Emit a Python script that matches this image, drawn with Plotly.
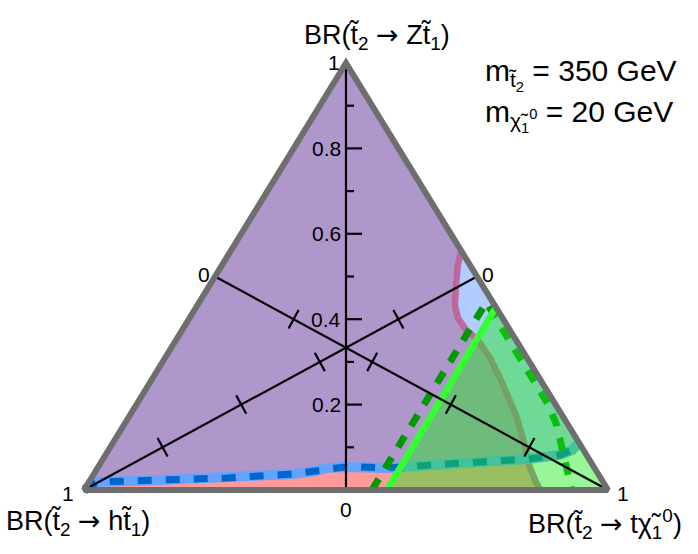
import plotly.graph_objects as go

# ---------------------------------------------------------------------------
# Branching-ratio plane of the heavier stop.  Every contour is stored as
# pairs (BR(t2 -> t chi1), BR(t2 -> Z t1)); BR(t2 -> h t1) is the remainder.
# ---------------------------------------------------------------------------

# boundary between the purple and light-blue regions (upper part, edge -> junction)
magenta_upper_t = [0.440, 0.450, 0.470, 0.4915, 0.512, 0.5415, 0.5765, 0.6205, 0.663, 0.703, 0.7366, 0.7715, 0.799, 0.811]
magenta_upper_z = [0.560, 0.527, 0.480, 0.433, 0.403, 0.375, 0.351, 0.309, 0.262, 0.2155, 0.1756, 0.1288, 0.089, 0.0726]
# same boundary below the junction with the blue contour
magenta_lower_t = [0.811, 0.824, 0.849, 0.870]
magenta_lower_z = [0.0726, 0.0539, 0.0234, 0.0]

# blue dashed contour (pink region below it), left vertex -> junction
blue_left_t = [0.0, 0.0155, 0.1333, 0.2588, 0.380, 0.4186, 0.438, 0.471, 0.4997, 0.5525, 0.6623, 0.797, 0.811]
blue_left_z = [0.0, 0.0187, 0.0234, 0.0281, 0.0375, 0.0445, 0.0515, 0.0539, 0.0539, 0.0515, 0.0609, 0.0703, 0.0726]
# blue dashed contour, junction -> right edge
blue_right_t = [0.811, 0.867, 0.8845, 0.890]
blue_right_z = [0.0726, 0.082, 0.0937, 0.110]

# bright green observed contour (region to its right is shaded)
green_t = [0.578, 0.572]
green_z = [0.0, 0.428]

# dark green dashed expected contour
expected_t = [0.5496, 0.548, 0.595, 0.670, 0.743, 0.787, 0.826, 0.859, 0.892, 0.931]
expected_z = [0.0, 0.440, 0.392, 0.317, 0.244, 0.199, 0.152, 0.105, 0.058, 0.0]

# axis ticks
z_minor_ticks = [0.1, 0.3, 0.5, 0.7, 0.9]
z_major_ticks = [0.2, 0.4, 0.6, 0.8]
z_tick_labels = ["0.2", "0.4", "0.6", "0.8"]
median_ticks = [0.2, 0.4, 0.6, 0.8]

# ---------------------------------------------------------------------------
W, H = 698, 554
X0_PX, X1_PX = 84.0, 608.0      # left / right vertex pixel columns
Y0_PX, Y1_PX = 490.0, 63.0      # base / apex pixel rows
SX = X1_PX - X0_PX
SY = Y0_PX - Y1_PX

FONT = "Liberation Sans, Arial, Helvetica, sans-serif"


def to_xy(t_list, z_list):
    """Barycentric (BR_t, BR_Z) -> plane coordinates (left vertex at 0,0)."""
    xs = [t + z / 2.0 for t, z in zip(t_list, z_list)]
    ys = list(z_list)
    return xs, ys


fig = go.Figure()


def polygon(xs, ys, color):
    fig.add_trace(go.Scatter(x=xs, y=ys, mode="lines", fill="toself",
                             fillcolor=color, line=dict(width=0),
                             hoverinfo="skip"))


def curve(xs, ys, color, width, dash="solid"):
    fig.add_trace(go.Scatter(x=xs, y=ys, mode="lines",
                             line=dict(color=color, width=width, dash=dash),
                             hoverinfo="skip"))


# --- filled regions -------------------------------------------------------
mux, muy = to_xy(magenta_upper_t, magenta_upper_z)
mlx, mly = to_xy(magenta_lower_t, magenta_lower_z)
blx, bly = to_xy(blue_left_t, blue_left_z)
brx, bry = to_xy(blue_right_t, blue_right_z)

# purple: left of the magenta contour, above the blue one
polygon([0.0, 0.5] + mux + blx[::-1], [0.0, 1.0] + muy + bly[::-1], "#af97cb")
# light blue: right of the magenta contour, above the blue one
polygon(mux + brx[1:], muy + bry[1:], "#b3ccff")
# pink: below the blue contour, left of the magenta one
polygon(blx + mlx[1:], bly + mly[1:], "#ff9a9a")

# --- contour lines beneath the shaded green region -------------------------
curve(mux + mlx[1:], muy + mly[1:], "rgba(190,95,150,0.9)", 6.5)
bx, by = blx + brx[1:], bly + bry[1:]
curve(bx, by, "#66a3ff", 10)
curve(bx, by, "#0066cc", 7, dash="14px,14px")
ex, ey = to_xy(expected_t, expected_z)
curve(ex, ey, "#009a00", 7, dash="13px,12px")

# --- shaded region right of the observed green contour ---------------------
gx, gy = to_xy(green_t, green_z)
polygon(gx + [1.0], gy + [0.0], "rgba(31,233,31,0.46)")
curve(gx, gy, "#33ff33", 6.5)

# --- axes: vertical BR(Z) axis and the two medians --------------------------
curve([0.5, 0.5], [0.0, 1.0], "black", 2.2)
curve([0.0, 0.75], [0.0, 0.5], "black", 2.2)
curve([1.0, 0.25], [0.0, 0.5], "black", 2.2)

for z in z_minor_ticks:
    curve([0.5, 0.5 + 8 / SX], [z, z], "black", 2.2)
for z in z_major_ticks:
    curve([0.5, 0.5 + 16 / SX], [z, z], "black", 2.2)


def median_cross(vx, vy, mx, my, values, half_px=10.5):
    dxp, dyp = (mx - vx) * SX, (my - vy) * SY
    n = (dxp ** 2 + dyp ** 2) ** 0.5
    px, py = -dyp / n * half_px, dxp / n * half_px
    for b in values:
        f = 1.0 - b
        cx, cy = vx + f * (mx - vx), vy + f * (my - vy)
        curve([cx - px / SX, cx + px / SX], [cy - py / SY, cy + py / SY], "black", 2.2)


median_cross(0.0, 0.0, 0.75, 0.5, median_ticks)
median_cross(1.0, 0.0, 0.25, 0.5, median_ticks)

# --- triangle frame ---------------------------------------------------------
fig.add_trace(go.Scatter(x=[0.0, 1.0, 0.5, 0.0, 1.0], y=[0.0, 0.0, 1.0, 0.0, 0.0],
                         mode="lines", line=dict(color="#6e6e6e", width=6),
                         hoverinfo="skip"))

# --- text ---------------------------------------------------------------------
ann = []


def label(x, y, text, size, xanchor="center", yanchor="middle", xshift=0, yshift=0):
    ann.append(dict(x=x, y=y, xref="x", yref="y", text=text, showarrow=False,
                    xanchor=xanchor, yanchor=yanchor, xshift=xshift, yshift=yshift,
                    font=dict(family=FONT, size=size, color="black")))


TICK = 21
for z, txt in zip(z_major_ticks, z_tick_labels):
    label(0.5, z, txt, TICK, xanchor="right", xshift=-3)
label(0.5, 1.0, "1", TICK, xanchor="right", xshift=-4, yshift=1)
label(0.5, 0.0, "0", TICK, yanchor="top", yshift=-6)
label(0.0, 0.0, "1", TICK, xanchor="right", xshift=-8, yshift=-3)
label(1.0, 0.0, "1", TICK, xanchor="left", xshift=7, yshift=-3)
label(0.25, 0.5, "0", TICK, xanchor="right", xshift=-3, yshift=2)
label(0.75, 0.5, "0", TICK, xanchor="left", xshift=3, yshift=2)

T = "t\u0303"
ARROW = '\u00a0<span style="font-family:DejaVu Sans">\u2192</span>\u00a0'
TITLE = 27
label(0.5, 1.0, f"BR({T}<sub>2</sub>{ARROW}Z{T}<sub>1</sub>)", TITLE,
      yanchor="bottom", xshift=31, yshift=7)
label(0.0, 0.0, f"BR({T}<sub>2</sub>{ARROW}h{T}<sub>1</sub>)", TITLE,
      yanchor="top", xshift=-6, yshift=-13)
label(1.0, 0.0, f"BR({T}<sub>2</sub>{ARROW}t\u03c7\u0303<sub>1</sub><sup>0</sup>)", TITLE,
      yanchor="top", xshift=-3, yshift=-13)

MASS = 30
ann += [
    dict(x=483 / W, y=1 - 74 / H, xref="paper", yref="paper", showarrow=False,
         xanchor="left", yanchor="middle",
         text=f"m<sub>{T}<sub>2</sub></sub> = 350 GeV",
         font=dict(family=FONT, size=MASS, color="black")),
    dict(x=483 / W, y=1 - 116 / H, xref="paper", yref="paper", showarrow=False,
         xanchor="left", yanchor="middle",
         text="m<sub>\u03c7\u0303<sub>1</sub><sup>0</sup></sub> = 20 GeV",
         font=dict(family=FONT, size=MASS, color="black")),
]
fig.layout.annotations = ann

# plane coordinates -> pixels: x in [0,1] spans X0_PX..X1_PX, y in [0,1] spans Y0_PX..Y1_PX
x_lo = -X0_PX / SX
x_hi = x_lo + W / SX
y_lo = -(H - Y0_PX) / SY
y_hi = y_lo + H / SY

fig.update_layout(
    width=W, height=H, margin=dict(l=0, r=0, t=0, b=0),
    paper_bgcolor="white", plot_bgcolor="white", showlegend=False,
    hovermode=False,
    xaxis=dict(range=[x_lo, x_hi], visible=False, fixedrange=True),
    yaxis=dict(range=[y_lo, y_hi], visible=False, fixedrange=True),
)

fig.write_html("out.html")
